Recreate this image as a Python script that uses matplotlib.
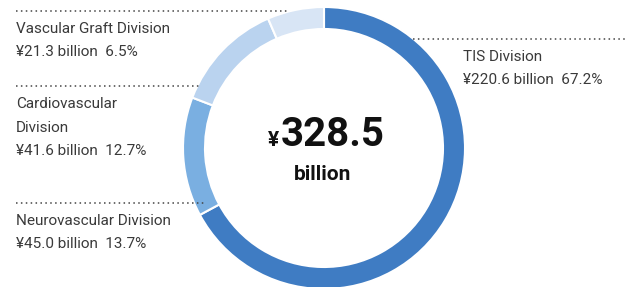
import matplotlib
matplotlib.use("Agg")
import matplotlib.pyplot as plt

# 데이터
divisions = ["TIS Division", "Neurovascular Division", "Cardiovascular\nDivision", "Vascular Graft Division"]
amounts = [220.6, 45.0, 41.6, 21.3]
shares = [67.2, 13.7, 12.7, 6.5]
colors = ["#3f7cc3", "#7aafe1", "#bad3ef", "#d8e5f5"]
total_label = "328.5"

W, H = 627, 287
plt.rcParams['font.family'] = ['Roboto', 'DejaVu Sans']

fig = plt.figure(figsize=(W / 100, H / 100), dpi=100)
ax = fig.add_axes([0, 0, 1, 1])

def Y(y):
    return H - y

cx, cy, r = 324, Y(148), 141
ax.pie(shares, colors=colors, startangle=90, counterclock=False,
       center=(cx, cy), radius=r, frame=True,
       wedgeprops=dict(width=22, edgecolor="white", linewidth=1.5))

ax.set_xlim(0, W)
ax.set_ylim(0, H)
ax.set_aspect("equal")
ax.axis("off")

# 점선 + 라벨
dot = dict(color="#444444", linestyle=(0, (1, 2.2)), linewidth=1.1)
txt = dict(fontsize=11, color="#3a3a3a", va="center", ha="left")

def label(i, x, y, lx0, lx1):
    ax.plot([lx0, lx1], [Y(y), Y(y)], **dot)
    lines = divisions[i].split("\n")
    yy = y + 18
    for ln in lines:
        ax.text(x, Y(yy), ln, **txt)
        yy += 23.5
    ax.text(x, Y(yy), f"¥{amounts[i]:.1f} billion  {shares[i]:.1f}%", **txt)

label(3, 16, 11, 16, 288)
label(2, 16, 86, 16, 200)
label(1, 16, 203, 16, 204)
label(0, 463, 39, 413, 627)

# 가운데 합계
ax.text(333, Y(135), total_label, fontsize=29, fontweight="bold", ha="center", va="center", color="#111111")
ax.text(279, Y(140), "¥", fontsize=15, fontweight="bold", ha="right", va="center", color="#111111")
ax.text(323, Y(174), "billion", fontsize=15, fontweight="bold", ha="center", va="center", color="#111111")

fig.savefig("out.png", dpi=100)
